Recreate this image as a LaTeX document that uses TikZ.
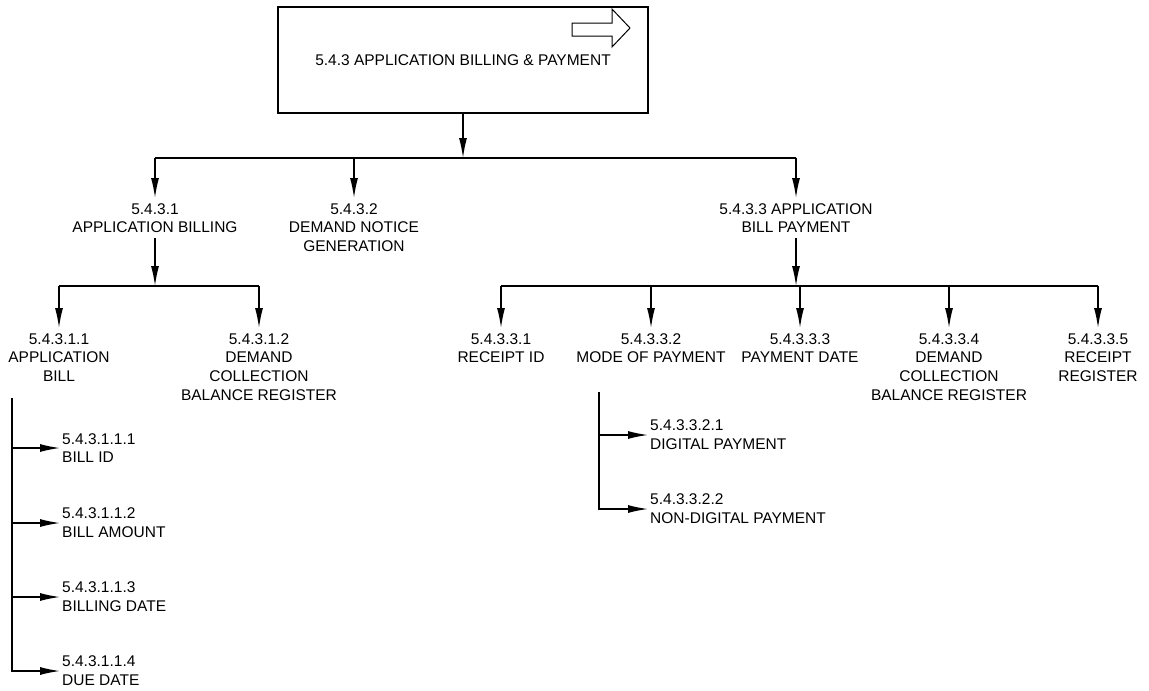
\documentclass[tikz,border=0pt]{standalone}
\usepackage{fontspec}
\setmainfont{Liberation Sans}
\usetikzlibrary{arrows.meta,positioning,calc}

\tikzset{
  lbl/.style={font=\fontsize{15.5}{18.7}\selectfont, text=black, align=center, inner xsep=2pt, inner ysep=5pt},
  leaf/.style={lbl, align=left, anchor=west, inner ysep=2pt},
  arr/.style={-{Latex[length=20pt,width=8pt]}, line width=1.4pt},
  ln/.style={line width=1.4pt},
}

\begin{document}
\begin{tikzpicture}[x=1pt,y=-1pt]
  \useasboundingbox (0,0) rectangle (1149,691);

  % top box
  \node[lbl, draw=black, line width=1.4pt, minimum width=370pt, minimum height=106pt] (top) at (463,60) {5.4.3 APPLICATION BILLING \& PAYMENT};
  \draw[line width=1pt] (572,23) -- (612,23) -- (612,9) -- (630,28) -- (612,47) -- (612,36) -- (572,36) -- cycle;

  % first level
  \coordinate (bar1) at (463,158);
  \node[lbl, anchor=north] (bill) at (155,198) {5.4.3.1\\APPLICATION BILLING};
  \node[lbl, anchor=north] (notice) at (354,198) {5.4.3.2\\DEMAND NOTICE\\GENERATION};
  \node[lbl, anchor=north] (pay) at (796,198) {5.4.3.3 APPLICATION\\BILL PAYMENT};
  \draw[arr] (top) -- (bar1);
  \draw[ln] (bar1 -| bill) -- (bar1 -| pay);
  \foreach \n in {bill,notice,pay}
    \draw[arr] (bar1 -| \n) -- (\n);

  % application billing
  \coordinate (bar2) at (155,286);
  \node[lbl, anchor=north] (abill) at (59,328) {5.4.3.1.1\\APPLICATION\\BILL};
  \node[lbl, anchor=north] (dcbr) at (259,328) {5.4.3.1.2\\DEMAND\\COLLECTION\\BALANCE REGISTER};
  \draw[arr] (bill) -- (bar2);
  \draw[ln] (bar2 -| abill) -- (bar2 -| dcbr);
  \foreach \n in {abill,dcbr}
    \draw[arr] (bar2 -| \n) -- (\n);

  % bill payment
  \coordinate (bar3) at (796,286);
  \node[lbl, anchor=north] (rid) at (501,328) {5.4.3.3.1\\RECEIPT ID};
  \node[lbl, anchor=north] (mode) at (651,328) {5.4.3.3.2\\MODE OF PAYMENT};
  \node[lbl, anchor=north] (pdate) at (800,328) {5.4.3.3.3\\PAYMENT DATE};
  \node[lbl, anchor=north] (pdcbr) at (949,328) {5.4.3.3.4\\DEMAND\\COLLECTION\\BALANCE REGISTER};
  \node[lbl, anchor=north] (rreg) at (1098,328) {5.4.3.3.5\\RECEIPT\\REGISTER};
  \draw[arr] (pay) -- (bar3);
  \draw[ln] (bar3 -| rid) -- (bar3 -| rreg);
  \foreach \n in {rid,mode,pdate,pdcbr,rreg}
    \draw[arr] (bar3 -| \n) -- (\n);

  % bill items
  \coordinate (stem1) at (12,398);
  \node[leaf] (billid) at (60,448) {5.4.3.1.1.1\\BILL ID};
  \node[leaf] (amount) at (60,523) {5.4.3.1.1.2\\BILL AMOUNT};
  \node[leaf] (bdate) at (60,597) {5.4.3.1.1.3\\BILLING DATE};
  \node[leaf] (due) at (60,671) {5.4.3.1.1.4\\DUE DATE};
  \draw[arr] (stem1) |- (due);
  \foreach \n in {billid,amount,bdate}
    \draw[arr] (stem1 |- \n.west) -- (\n);

  % payment modes
  \coordinate (stem2) at (599,392);
  \node[leaf] (digital) at (648,435) {5.4.3.3.2.1\\DIGITAL PAYMENT};
  \node[leaf] (nondigital) at (648,509) {5.4.3.3.2.2\\NON-DIGITAL PAYMENT};
  \draw[arr] (stem2) |- (nondigital);
  \draw[arr] (stem2 |- digital.west) -- (digital);
\end{tikzpicture}
\end{document}
